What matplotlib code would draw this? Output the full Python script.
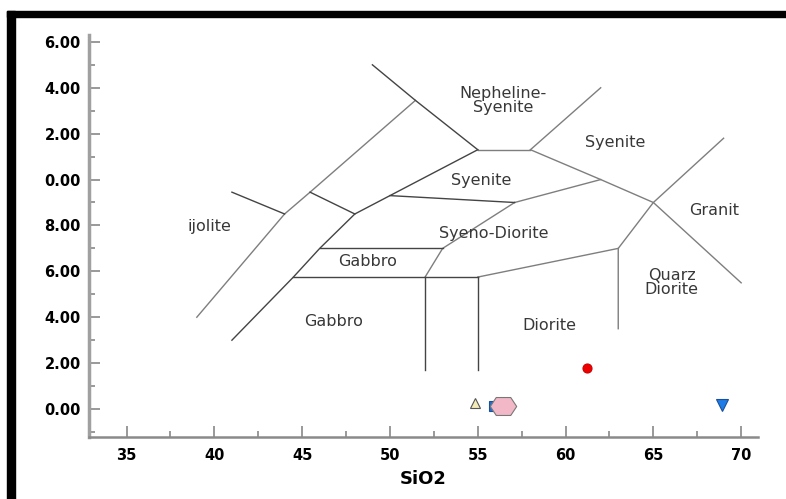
import matplotlib.pyplot as plt
from matplotlib.patches import Rectangle
from matplotlib.ticker import MultipleLocator, FixedLocator, FixedFormatter

# Granice polja (SiO2, ukupne alkalije)
ijolite_outer = [(39.0, 4.0), (44.0, 8.5), (45.45, 9.45), (51.45, 13.45)]
ijolite_cut = [(41.0, 9.45), (44.0, 8.5)]
gabbro_outer = [(41.0, 3.0), (44.5, 5.75), (46.0, 7.0), (48.0, 8.5), (50.0, 9.3), (55.0, 11.3)]
middle_cut = [(45.45, 9.45), (48.0, 8.5)]
neph_left = [(49.0, 15.0), (51.45, 13.45), (55.0, 11.3)]
neph_base = [(55.0, 11.3), (58.0, 11.3)]
neph_right = [(58.0, 11.3), (62.0, 14.0)]
syenite_base = [(58.0, 11.3), (62.0, 10.0), (65.0, 9.0), (70.0, 5.5)]
syenite_inner_base = [(50.0, 9.3), (57.1, 9.0)]
syenodiorite_top = [(57.1, 9.0), (62.0, 10.0)]
syenodiorite_left = [(52.0, 5.75), (53.0, 7.0), (57.1, 9.0)]
granite_left = [(69.0, 11.8), (65.0, 9.0), (63.0, 7.0), (63.0, 3.5)]
diorite_top = [(55.0, 5.75), (63.0, 7.0)]
gabbro_split = [(46.0, 7.0), (53.0, 7.0)]
gabbro_base = [(44.5, 5.75), (55.0, 5.75)]
line_52 = [(52.0, 5.75), (52.0, 1.7)]
line_55 = [(55.0, 5.75), (55.0, 1.7)]

light_lines = [ijolite_outer, neph_base, neph_right, syenite_base,
               syenodiorite_top, syenodiorite_left, granite_left, diorite_top]
dark_lines = [ijolite_cut, gabbro_outer, middle_cut, neph_left, syenite_inner_base,
              gabbro_split, gabbro_base, line_52, line_55]

# Nazivi polja i njihov polozaj
field_names = ['ijolite', 'Gabbro', 'Gabbro', 'Syenite', 'Syeno-Diorite',
               'Nepheline-\nSyenite', 'Syenite', 'Granit', 'Quarz\nDiorite', 'Diorite']
field_x = [39.7, 46.8, 48.7, 55.2, 55.9, 56.45, 62.8, 68.45, 66.05, 59.1]
field_y = [7.97, 3.8, 6.45, 9.98, 7.63, 13.45, 11.6, 8.63, 5.53, 3.62]

# Uzorci
sample_x = [61.2, 54.85, 55.95, 56.45, 68.9]
sample_y = [1.8, 0.25, 0.13, 0.13, 0.17]
hexagon = [(-1, 0), (-0.55, 0.68), (0.55, 0.68), (1, 0), (0.55, -0.68), (-0.55, -0.68), (-1, 0)]
sample_style = [
    dict(marker='o', ms=6.5, mfc='#ee0000', mec='#cc0000'),
    dict(marker='^', ms=7.5, mfc='#f3ebb8', mec='#555555'),
    dict(marker='s', ms=7, mfc='#1f6fd6', mec='#1a4f9a'),
    dict(marker=hexagon, ms=19, mfc='#f2b8c8', mec='#777777'),
    dict(marker='v', ms=9, mfc='#1e7ce6', mec='#1a4f9a'),
]

y_ticks = [0, 2, 4, 6, 8, 10, 12, 14, 16]
y_tick_labels = ['0.00', '2.00', '4.00', '6.00', '8.00', '0.00', '2.00', '4.00', '6.00']
x_ticks = [35, 40, 45, 50, 55, 60, 65, 70]

fig = plt.figure(figsize=(7.86, 4.99), dpi=100)
ax = fig.add_axes([0.1132, 0.1242, 0.8512, 0.8057])

for seg in light_lines:
    xs, ys = zip(*seg)
    ax.plot(xs, ys, color='#7e7e7e', lw=1.0)
for seg in dark_lines:
    xs, ys = zip(*seg)
    ax.plot(xs, ys, color='#444444', lw=1.0)

for name, tx, ty in zip(field_names, field_x, field_y):
    ax.text(tx, ty, name, ha='center', va='center', fontsize=11.5,
            color='#383838', linespacing=0.9)

for sx, sy, st in zip(sample_x, sample_y, sample_style):
    ax.plot(sx, sy, ls='none', mew=0.8, **st)

ax.set_xlim(32.86, 70.96)
ax.set_ylim(-1.22, 16.3)

ax.xaxis.set_major_locator(FixedLocator(x_ticks))
ax.xaxis.set_minor_locator(MultipleLocator(2.5))
ax.yaxis.set_major_locator(FixedLocator(y_ticks))
ax.yaxis.set_major_formatter(FixedFormatter(y_tick_labels))
ax.yaxis.set_minor_locator(MultipleLocator(1))

ax.tick_params(which='both', direction='in', color='#888888', width=1.2)
ax.tick_params(which='major', length=8)
ax.tick_params(which='minor', length=4)
ax.tick_params(axis='x', pad=8)
ax.tick_params(axis='y', pad=6)
for lab in ax.get_xticklabels() + ax.get_yticklabels():
    lab.set_fontsize(10.5)
    lab.set_fontweight('bold')

for side in ['top', 'right']:
    ax.spines[side].set_visible(False)
ax.spines['left'].set_color('#a0a0a0')
ax.spines['left'].set_linewidth(2.5)
ax.spines['bottom'].set_color('#8a8a8a')
ax.spines['bottom'].set_linewidth(1.8)

ax.set_xlabel('SiO2', fontsize=13, fontweight='bold', labelpad=5)

# okvir slike (gornja i lijeva crna traka)
fig.patches.append(Rectangle((0.0089, 0.9653), 0.9911, 0.0127,
                             transform=fig.transFigure, color='black', zorder=10))
fig.patches.append(Rectangle((0.0093, 0.0), 0.0098, 0.978,
                             transform=fig.transFigure, color='black', zorder=10))

fig.savefig('out.png', dpi=100)
